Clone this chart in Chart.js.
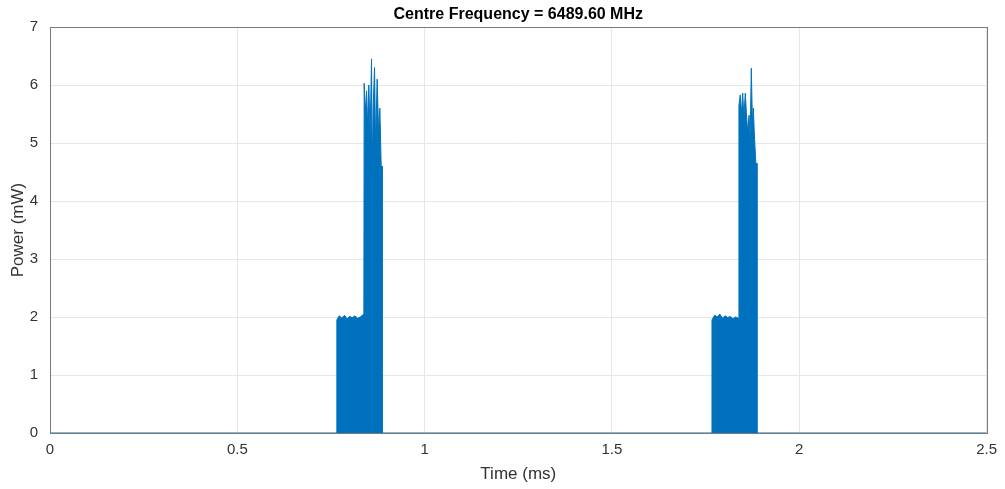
<!DOCTYPE html>
<html>
<head>
<meta charset="utf-8">
<script src="https://cdn.jsdelivr.net/npm/chart.js@4.4.1/dist/chart.umd.min.js"></script>
<style>
  html, body { margin: 0; padding: 0; background: #fff; }
  #wrap { width: 1005px; height: 489px; }
</style>
</head>
<body>
<div id="wrap"><canvas id="power-chart" width="1005" height="489"></canvas></div>
<script>
// envelope of the two RF bursts (time in ms, power in mW)
const timeMs = [
  0, 0.7657,
  0.7657, 0.772, 0.779, 0.786, 0.793, 0.800, 0.807, 0.814, 0.821, 0.828, 0.8378,
  0.8386, 0.8413, 0.845, 0.8476, 0.851, 0.8546, 0.8583, 0.860, 0.8626, 0.8663, 0.869, 0.8733, 0.877, 0.8805, 0.884, 0.8866,
  0.8866, 1.767,
  1.767, 1.774, 1.781, 1.788, 1.795, 1.802, 1.809, 1.816, 1.823, 1.830, 1.837,
  1.839, 1.8425, 1.846, 1.849, 1.852, 1.856, 1.859, 1.862, 1.866, 1.869, 1.872, 1.875, 1.8775, 1.880, 1.884, 1.887,
  1.887, 2.5
];
const powerMw = [
  0, 0,
  1.95, 2.02, 1.98, 2.03, 1.97, 2.01, 1.99, 2.02, 1.98, 2.00, 2.05,
  6.03, 5.5, 5.9, 5.3, 6.0, 5.2, 6.45, 4.5, 5.6, 6.3, 5.0, 6.1, 5.2, 5.6, 4.6, 4.6,
  0, 0,
  1.95, 2.03, 2.0, 2.05, 1.98, 2.02, 1.99, 2.01, 1.97, 2.00, 1.98,
  5.65, 5.83, 5.5, 5.86, 5.45, 5.86, 5.5, 5.2, 5.48, 5.1, 6.29, 5.34, 5.6, 5.17, 4.65, 4.65,
  0, 0
];
const chartTitle = 'Centre Frequency = 6489.60 MHz';

const lineBlue = '#0072bd';
const axisColor = '#333333';
const fontFamily = '"Liberation Sans", Arial, Helvetica, sans-serif';

// draws the top and right edges of the axes box like matlab
const boxPlugin = {
  id: 'box',
  afterDraw(chart) {
    const { ctx, chartArea: a } = chart;
    ctx.save();
    ctx.strokeStyle = '#7a7a7a';
    ctx.lineWidth = 1;
    ctx.strokeRect(Math.round(a.left) + 0.5, Math.round(a.top) + 0.5,
      Math.round(a.right - a.left), Math.round(a.bottom - a.top));
    ctx.restore();
  }
};

const points = timeMs.map((t, i) => ({ x: t, y: powerMw[i] }));

new Chart(document.getElementById('power-chart'), {
  type: 'line',
  data: {
    datasets: [{
      data: points,
      borderColor: lineBlue,
      backgroundColor: lineBlue,
      borderWidth: 1,
      pointRadius: 0,
      tension: 0,
      fill: 'origin'
    }]
  },
  options: {
    responsive: false,
    animation: false,
    layout: { padding: { left: 0, right: 18, top: 0, bottom: 0 } },
    plugins: {
      legend: { display: false },
      tooltip: { enabled: false },
      title: {
        display: true,
        text: chartTitle,
        fullSize: false,
        color: '#000',
        font: { family: fontFamily, size: 16, weight: 'bold' },
        padding: { top: 5, bottom: 2.8 }
      }
    },
    scales: {
      x: {
        type: 'linear',
        min: 0,
        max: 2.5,
        ticks: {
          stepSize: 0.5,
          color: axisColor,
          font: { family: fontFamily, size: 15 },
          padding: 8,
          maxRotation: 0,
          callback: v => String(v)
        },
        grid: { color: '#e6e6e6', drawTicks: false },
        border: { color: '#7a7a7a' },
        title: {
          display: true,
          text: 'Time (ms)',
          color: axisColor,
          font: { family: fontFamily, size: 17 },
          padding: { top: 3 }
        },
        afterFit: s => { s.height = 56; }
      },
      y: {
        min: 0,
        max: 7,
        ticks: {
          stepSize: 1,
          color: axisColor,
          font: { family: fontFamily, size: 15 },
          padding: 12
        },
        grid: { color: '#e6e6e6', drawTicks: false },
        border: { color: '#7a7a7a' },
        title: {
          display: true,
          text: 'Power (mW)',
          color: axisColor,
          font: { family: fontFamily, size: 17 },
          padding: { top: 8, bottom: 0 }
        },
        afterFit: s => { s.width = 50; }
      }
    }
  },
  plugins: [boxPlugin]
});
</script>
</body>
</html>
